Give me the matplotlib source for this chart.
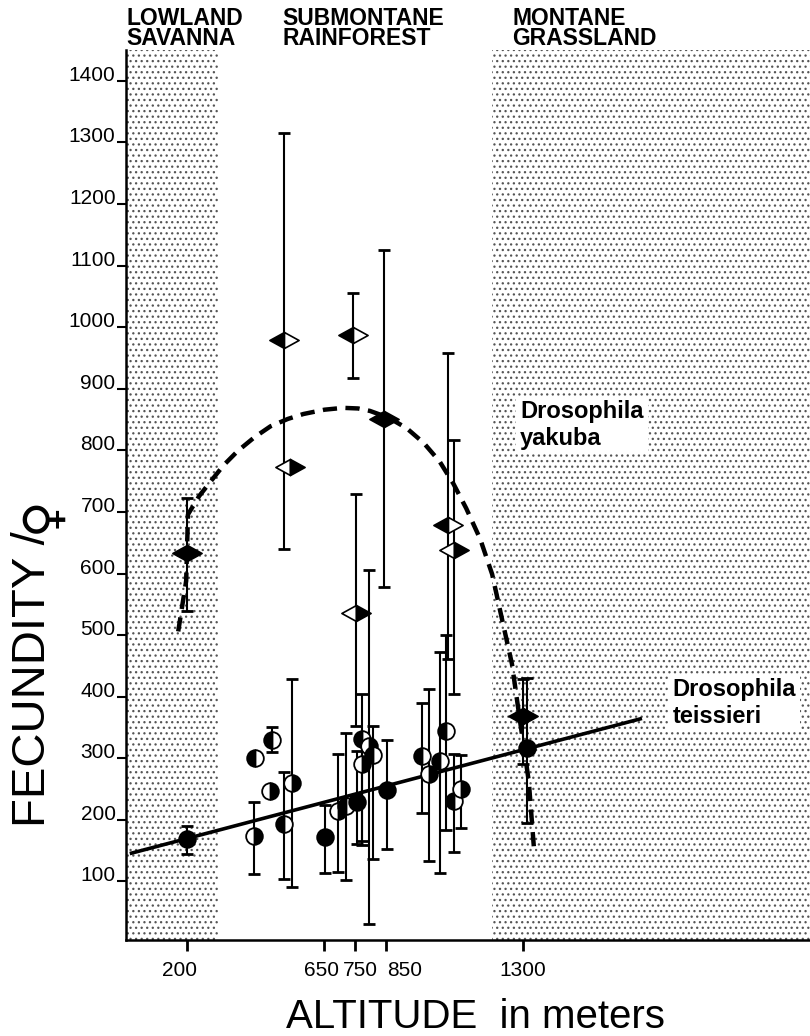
import matplotlib
matplotlib.use('Agg')
import matplotlib.pyplot as plt
import matplotlib.transforms as mtransforms
from matplotlib.path import Path
import numpy as np

plt.rcParams['hatch.linewidth'] = 0.9
plt.rcParams['font.family'] = ['Liberation Sans', 'DejaVu Sans']

# ---------------- data ----------------
zone_names = ['LOWLAND\nSAVANNA', 'SUBMONTANE\nRAINFOREST', 'MONTANE\nGRASSLAND']
savanna_span = [0, 300]
grassland_span = [1200, 2240]

x_ticks = [200, 650, 750, 850, 1300]
y_ticks = [100, 200, 300, 400, 500, 600, 700, 800, 900, 1000, 1100, 1200, 1300, 1400]

# Drosophila teissieri (circles)
teis_alt = [200, 418, 424, 477, 473, 516, 545, 652, 695, 720, 756, 773, 797, 809, 773,
            854, 968, 991, 1027, 1049, 1075, 1098, 1313]
teis_fec = [169, 174, 300, 330, 247, 193, 260, 172, 214, 222, 229, 331, 320, 306, 290,
            248, 303, 274, 295, 344, 230, 250, 317]
teis_lo = [144, 112, np.nan, 310, np.nan, 104, 91, 114, 115, 102, 161, 166, 31, 136, 160,
           153, 211, 133, 114, 183, 148, 187, 195]
teis_hi = [190, 229, np.nan, 351, np.nan, 278, 428, 224, 307, 341, 312, 404, 605, 352, 330,
           330, 390, 412, 472, 501, 307, 305, 430]
teis_fill = ['full', 'right', 'left', 'left', 'right', 'left', 'right', 'full', 'right', 'left',
             'full', 'left', 'right', 'left', 'right', 'full', 'left', 'right', 'left', 'left',
             'left', 'right', 'full']

# Drosophila yakuba (diamonds)
yak_alt = [200, 516, 538, 743, 844, 753, 1055, 1075, 1300]
yak_fec = [633, 979, 773, 988, 851, 536, 678, 639, 368]
yak_lo = [539, 640, np.nan, 918, 578, 352, 461, 404, 290]
yak_hi = [722, 1316, np.nan, 1055, 1125, 729, 958, 816, 428]
yak_fill = ['full', 'left', 'right', 'left', 'full', 'right', 'left', 'right', 'full']

# fitted curves
yak_curve_alt = [171, 197, 203, 240, 278, 320, 366, 420, 473, 530, 581, 650, 711, 760, 799,
                 860, 919, 975, 1027, 1072, 1114, 1160, 1199, 1230, 1264, 1287, 1319, 1336]
yak_curve_fec = [506, 588, 696, 726, 750, 776, 799, 821, 839, 851, 859, 866, 869, 868, 864,
                 853, 836, 812, 782, 746, 706, 656, 599, 529, 453, 372, 263, 154]
teis_line_alt = [18, 1684]
teis_line_fec = [146, 364]

# ---------------- figure ----------------
W, H = 810, 1036
fig = plt.figure(figsize=(W / 100, H / 100), dpi=100)
ax = fig.add_axes([126 / W, (H - 940) / H, (W - 126) / W, (940 - 50) / H])
ax.set_xlim(0, 2240)
ax.set_ylim(5, 1450)

for span in (savanna_span, grassland_span):
    ax.axvspan(span[0], span[1], facecolor='white', edgecolor='#555555',
               hatch='...', linewidth=0, zorder=0)

for s in ('top', 'right'):
    ax.spines[s].set_visible(False)
for s in ('left', 'bottom'):
    ax.spines[s].set_linewidth(1.8)
    ax.spines[s].set_zorder(5)

ax.set_yticks(y_ticks)
ax.set_yticklabels([str(v) for v in y_ticks])
ax.set_xticks(x_ticks)
ax.set_xticklabels([str(v) for v in x_ticks])
ax.tick_params(axis='y', direction='out', length=6.5, width=1.5, pad=1, labelsize=15)
ax.tick_params(axis='x', direction='out', length=8, width=2, pad=7, labelsize=15)
for lbl in ax.get_yticklabels():
    lbl.set_va('baseline')
x_label_shift_px = [-8, -3, 5, 19, 0]
for lbl, dx in zip(ax.get_xticklabels(), x_label_shift_px):
    lbl.set_transform(lbl.get_transform() +
                      mtransforms.ScaledTranslation(dx / 100, 0, fig.dpi_scale_trans))

# error bars
def draw_err(alt, fec, lo, hi):
    alt = np.array(alt, float); fec = np.array(fec, float)
    lo = np.array(lo, float); hi = np.array(hi, float)
    m = ~np.isnan(lo)
    ax.errorbar(alt[m], fec[m], yerr=[fec[m] - lo[m], hi[m] - fec[m]], fmt='none',
                ecolor='black', elinewidth=1.5, capsize=4, capthick=2, zorder=3)

draw_err(teis_alt, teis_fec, teis_lo, teis_hi)
draw_err(yak_alt, yak_fec, yak_lo, yak_hi)

# curves
ax.plot(yak_curve_alt, yak_curve_fec, color='black', lw=3.2, dashes=(3.2, 1.9),
        solid_capstyle='butt', solid_joinstyle='round', zorder=4)
ax.plot(teis_line_alt, teis_line_fec, color='black', lw=2.6, zorder=4)

# circles
for a, f, fs in zip(teis_alt, teis_fec, teis_fill):
    ax.plot([a], [f], marker='o', ms=12, fillstyle=fs, markerfacecolor='black',
            markerfacecoloralt='white', markeredgecolor='black', markeredgewidth=1.3,
            linestyle='none', zorder=6)

# diamonds
left_half = Path([(-1, 0), (0, 0.55), (0, -0.55), (-1, 0)],
                 [Path.MOVETO, Path.LINETO, Path.LINETO, Path.CLOSEPOLY])
right_half = Path([(1, 0), (0, 0.55), (0, -0.55), (1, 0)],
                  [Path.MOVETO, Path.LINETO, Path.LINETO, Path.CLOSEPOLY])
for a, f, fs in zip(yak_alt, yak_fec, yak_fill):
    lc = 'black' if fs in ('full', 'left') else 'white'
    rc = 'black' if fs in ('full', 'right') else 'white'
    ax.plot([a], [f], marker=left_half, ms=21, markerfacecolor=lc,
            markeredgecolor='black', markeredgewidth=1.2, linestyle='none', zorder=6)
    ax.plot([a], [f], marker=right_half, ms=21, markerfacecolor=rc,
            markeredgecolor='black', markeredgewidth=1.2, linestyle='none', zorder=6)

# species labels
box = dict(facecolor='white', edgecolor='none', pad=3)
ax.text(1290, 841, 'Drosophila\nyakuba', fontsize=17, fontweight='bold',
        linespacing=1.2, va='center', ha='left', bbox=box, zorder=7)
ax.text(1790, 390, 'Drosophila\nteissieri', fontsize=17, fontweight='bold',
        linespacing=1.2, va='center', ha='left', bbox=box, zorder=7)

# zone labels above plot
zone_x_px = [126, 282, 512]
for x, t in zip(zone_x_px, zone_names):
    fig.text(x / W, 1 - 7 / H, t, fontsize=16.5, fontweight='bold', ha='left', va='top',
             linespacing=0.83)

# axis titles
fig.text(476 / W, 1 - 1028 / H, 'ALTITUDE  in meters', fontsize=29, ha='center',
         va='baseline')
fig.text(33 / W, 1 - 679 / H, 'FECUNDITY /', fontsize=34, rotation=90,
         ha='center', va='center')
fig.text(41 / W, 1 - 515 / H, '♀', fontsize=36, rotation=90, family='DejaVu Sans',
         ha='center', va='center')

fig.savefig('out.png', dpi=100)
